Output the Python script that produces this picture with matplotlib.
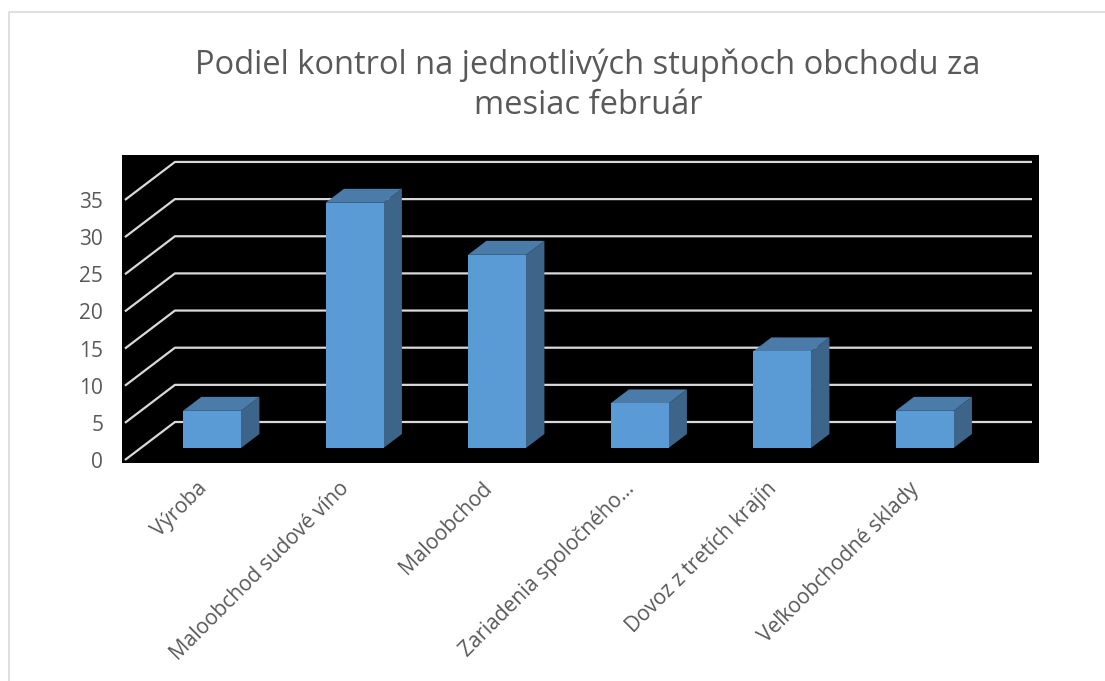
import matplotlib.pyplot as plt
from matplotlib.patches import Polygon
from matplotlib.lines import Line2D

plt.rcParams['font.family'] = ['Open Sans', 'DejaVu Sans']

# data
categories = ['Výroba', 'Maloobchod sudové víno', 'Maloobchod',
              'Zariadenia spoločného…', 'Dovoz z tretích krajín',
              'Veľkoobchodné sklady']
values = [5, 33, 26, 6, 13, 5]
y_ticks = [0, 5, 10, 15, 20, 25, 30, 35]
title = 'Podiel kontrol na jednotlivých stupňoch obchodu za\nmesiac február'

# farby
c_front = '#5B9BD5'
c_top = '#4A7BA9'
c_side = '#3C6589'
c_grid = '#D9D9D9'
c_text = '#595959'

# pseudo 3D: posun do hlbky (v jednotkach kategorii / hodnot)
DX = 50 / 142.5
DY = 38 / 7.43
d0, d1 = 0.316, 0.684   # predna a zadna stena stlpca
hw = 0.2035              # polovica sirky stlpca
wall_x0, wall_x1 = -0.5, 5.514


def proj(x, v, d):
    return x + d * DX, v + d * DY


fig = plt.figure(figsize=(11.05, 6.81), dpi=100)

# ramcek grafu
fig.add_artist(Line2D([8.5 / 1105, 8.5 / 1105, 1.0], [0.0, 1 - 11.5 / 681, 1 - 11.5 / 681],
                      transform=fig.transFigure, color=c_grid, lw=1.2))

ax = fig.add_axes([122 / 1105, 218 / 681, 917 / 1105, 308 / 681])
ax.set_facecolor('black')
ax.set_xlim(-0.5207, 5.914)
ax.set_ylim(-0.404, 41.05)
for s in ax.spines.values():
    s.set_visible(False)

# mriezka - lava stena + zadna stena
for v in y_ticks:
    p0 = proj(wall_x0, v, 0)
    p1 = proj(wall_x0, v, 1)
    p2 = proj(wall_x1, v, 1)
    ax.plot([p0[0], p1[0], p2[0]], [p0[1], p1[1], p2[1]],
            color=c_grid, lw=1.6, solid_capstyle='butt', zorder=1)

# stlpce
for i, v in enumerate(values):
    xl, xr = i - hw, i + hw
    front = [proj(xl, 0, d0), proj(xr, 0, d0), proj(xr, v, d0), proj(xl, v, d0)]
    top = [proj(xl, v, d0), proj(xr, v, d0), proj(xr, v, d1), proj(xl, v, d1)]
    side = [proj(xr, 0, d0), proj(xr, 0, d1), proj(xr, v, d1), proj(xr, v, d0)]
    ax.add_patch(Polygon(side, closed=True, facecolor=c_side, edgecolor='none', zorder=3))
    ax.add_patch(Polygon(top, closed=True, facecolor=c_top, edgecolor='none', zorder=3))
    ax.add_patch(Polygon(front, closed=True, facecolor=c_front, edgecolor='none', zorder=4))

ax.set_yticks(y_ticks)
ax.tick_params(axis='y', length=0, pad=13.5, labelcolor=c_text, labelsize=15)
ax.set_xticks(range(len(categories)))
ax.set_xticklabels(categories, rotation=45, ha='right', va='top',
                   rotation_mode='anchor', color=c_text, fontsize=15)
ax.tick_params(axis='x', length=0, pad=11)

fig.text(588 / 1105, 1 - 85 / 681, title, ha='center', va='center',
         fontsize=23.5, color=c_text, linespacing=1.3)

fig.savefig('out.png', dpi=100)
